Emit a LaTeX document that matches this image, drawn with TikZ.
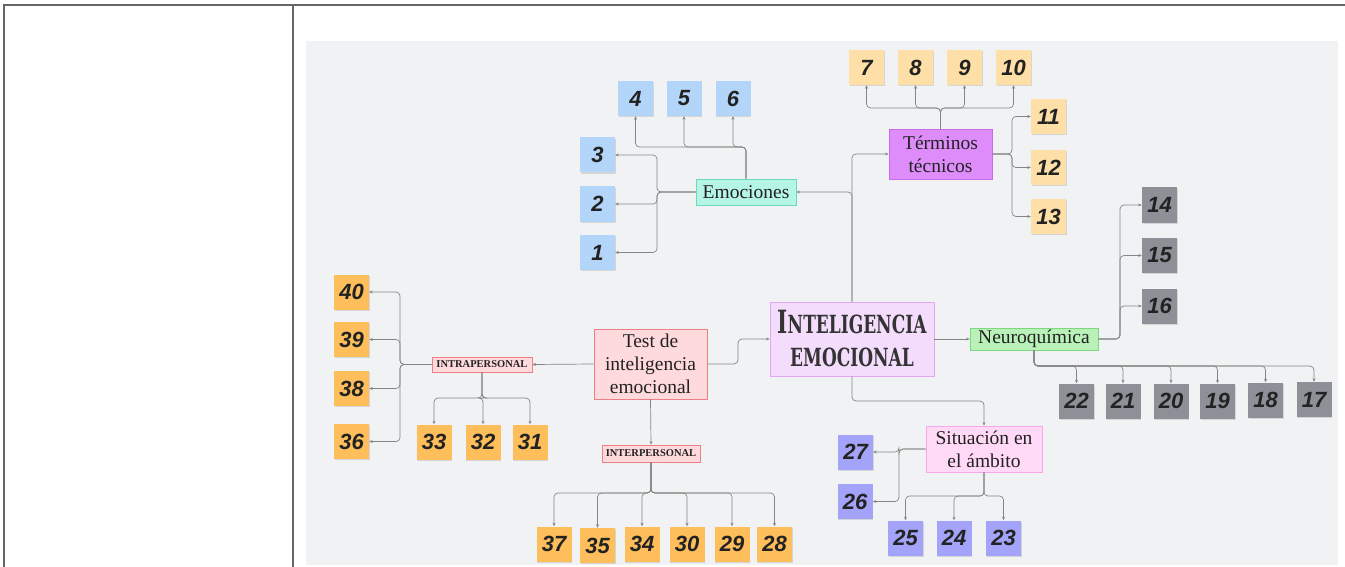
\documentclass[tikz,border=0pt]{standalone}
\usepackage{fontspec}
\usepackage{graphicx}
\setmainfont{Liberation Serif}
\newfontfamily\notefont{Liberation Sans}
\newfontfamily\titlefont{DejaVu Serif}
\usetikzlibrary{arrows.meta,shadows}
\definecolor{tbl}{HTML}{666666}
\definecolor{panel}{HTML}{F1F2F4}
\definecolor{ink}{HTML}{222222}
\definecolor{titleink}{HTML}{333333}
\definecolor{linkgray}{HTML}{858585}
\definecolor{noteblue}{HTML}{B4D5FA}
\definecolor{notepeach}{HTML}{FFDFA8}
\definecolor{noteorange}{HTML}{FDBE5B}
\definecolor{notegray}{HTML}{8D9096}
\definecolor{notepurple}{HTML}{A3A3F9}
\definecolor{mainfill}{HTML}{F3DCFC}\definecolor{mainline}{HTML}{E3A6F7}
\definecolor{emofill}{HTML}{B5F5E6}\definecolor{emoline}{HTML}{6CD9BE}
\definecolor{termfill}{HTML}{DD8CF9}\definecolor{termline}{HTML}{C96BE8}
\definecolor{neurofill}{HTML}{B9F1B9}\definecolor{neuroline}{HTML}{7DD87D}
\definecolor{sitfill}{HTML}{FFD9F6}\definecolor{sitline}{HTML}{F7A8E8}
\definecolor{testfill}{HTML}{FFDADD}\definecolor{testline}{HTML}{EE7F86}

\begin{document}
\begin{tikzpicture}[x=1pt,y=-1pt,
  note/.style={minimum width=35pt,minimum height=35pt,inner sep=0pt,text=ink,
    font=\notefont\bfseries\itshape\fontsize{22}{22}\selectfont,
    drop shadow={shadow xshift=0.6pt,shadow yshift=-1.2pt,opacity=0.25}},
  bluenote/.style={note,fill=noteblue}, peachnote/.style={note,fill=notepeach},
  orangenote/.style={note,fill=noteorange}, graynote/.style={note,fill=notegray},
  purplenote/.style={note,fill=notepurple},
  topic/.style={draw,line width=0.8pt,inner sep=1pt,align=center,text=ink,
    font=\fontsize{19.5}{23}\selectfont},
  tag/.style={topic,fill=testfill,draw=testline,font=\bfseries\fontsize{10.5}{11}\selectfont},
  link/.style={draw=linkgray,line width=0.7pt,rounded corners=4pt,-{Stealth[length=3.5pt,width=3pt]}}]
  \useasboundingbox (0,0) rectangle (1345,567);
  \draw[tbl,line width=2pt] (4,567) -- (4,5) -- (1345,5); \draw[tbl,line width=2pt] (293,5) -- (293,567);
  \fill[panel] (306,41) rectangle (1338,565);

  \node[topic,fill=mainfill,draw=mainline,text=titleink,minimum width=164pt,minimum height=74pt,font=\titlefont\bfseries\fontsize{25}{33}\selectfont] (main) at (852,339)
    {\scalebox{0.68}[1]{\fontsize{32}{32}\selectfont I\fontsize{25}{25}\selectfont NTELIGENCIA}\\\scalebox{0.68}[1]{EMOCIONAL}};
  \node[topic,fill=emofill,draw=emoline,minimum width=100pt,minimum height=26pt] (emo) at (746,192) {Emociones};
  \node[topic,fill=termfill,draw=termline,minimum width=103pt,minimum height=50pt] (term) at (940.5,154) {Términos\\técnicos};
  \node[topic,fill=neurofill,draw=neuroline,minimum width=128pt,minimum height=22pt] (neuro) at (1034,339) {Neuroquímica};
  \node[topic,fill=sitfill,draw=sitline,minimum width=116pt,minimum height=46pt] (sit) at (984,449) {Situación en\\el ámbito};
  \node[topic,fill=testfill,draw=testline,minimum width=113pt,minimum height=70pt] (test) at (650.5,364) {Test de\\inteligencia\\emocional};
  \node[tag,minimum width=100pt,minimum height=15pt] (intra) at (482,364.5) {INTRAPERSONAL};
  \node[tag,minimum width=98pt,minimum height=17pt] (inter) at (651,453.5) {INTERPERSONAL};

  \node[bluenote] (n4) at (635.5,98.5) {4}; \node[bluenote] (n5) at (684,98.5) {5}; \node[bluenote] (n6) at (733,98.5) {6};
  \node[bluenote] (n3) at (597.5,155) {3}; \node[bluenote] (n2) at (597.5,204) {2}; \node[bluenote] (n1) at (597.5,252.5) {1};
  \node[peachnote] (n7) at (866.5,67.5) {7}; \node[peachnote] (n8) at (915.5,67.5) {8};
  \node[peachnote] (n9) at (964.5,67.5) {9}; \node[peachnote] (n10) at (1013.5,67.5) {10};
  \node[peachnote] (n11) at (1048.5,116.5) {11}; \node[peachnote] (n12) at (1048.5,167.5) {12}; \node[peachnote] (n13) at (1048.5,216.5) {13};
  \node[graynote] (n14) at (1159.5,205) {14}; \node[graynote] (n15) at (1159.5,255.5) {15}; \node[graynote] (n16) at (1159.5,306) {16};
  \node[graynote] (n22) at (1076.5,401) {22}; \node[graynote] (n21) at (1123,401) {21}; \node[graynote] (n20) at (1171,401) {20};
  \node[graynote] (n19) at (1217.5,401) {19}; \node[graynote] (n18) at (1265.5,400) {18}; \node[graynote] (n17) at (1314,399.5) {17};
  \node[purplenote] (n27) at (855.5,452) {27}; \node[purplenote] (n26) at (855,501.5) {26};
  \node[purplenote] (n25) at (905.5,538) {25}; \node[purplenote] (n24) at (954,538) {24}; \node[purplenote] (n23) at (1003.5,538) {23};
  \node[orangenote] (n40) at (351.5,292) {40}; \node[orangenote] (n39) at (351.5,339.5) {39};
  \node[orangenote] (n38) at (351.5,388.5) {38}; \node[orangenote] (n36) at (351.5,441.5) {36};
  \node[orangenote] (n33) at (434,442) {33}; \node[orangenote] (n32) at (483,442) {32}; \node[orangenote] (n31) at (530,442) {31};
  \node[orangenote] (n37) at (554,544) {37}; \node[orangenote] (n35) at (597.5,545.5) {35}; \node[orangenote] (n34) at (642,544) {34};
  \node[orangenote] (n30) at (687,544) {30}; \node[orangenote] (n29) at (732,544) {29}; \node[orangenote] (n28) at (774.5,544) {28};

  \draw[link] (main.north) |- (term.west); \draw[link] (main.north) |- (emo.east); \draw[link] (main.east) -- (neuro.west);
  \coordinate (ms) at (0,401); \draw[link] (main.south) |- (ms -| sit.north) -- (sit.north);
  \coordinate (tm) at (738,0); \draw[link] (test.east) -| (tm |- main.west) -- (main.west);
  \draw[link] (test.west) -- (intra.east); \draw[link] (test.south) -- (inter.north);

  \coordinate (et) at (0,147); \coordinate (el) at (657,0);
  \draw[link] (emo.north) |- (et -| n4) -- (n4.south); \draw[link] (emo.north) |- (et -| n5) -- (n5.south); \draw[link] (emo.north) |- (et -| n6) -- (n6.south);
  \draw[link] (emo.west) -| (el |- n3) -- (n3.east); \draw[link] (emo.west) -| (el |- n2) -- (n2.east); \draw[link] (emo.west) -| (el |- n1) -- (n1.east);

  \coordinate (tt) at (0,108); \coordinate (tr) at (1012,0);
  \draw[link] (term.north) |- (tt -| n7) -- (n7.south); \draw[link] (term.north) |- (tt -| n8) -- (n8.south);
  \draw[link] (term.north) |- (tt -| n9) -- (n9.south); \draw[link] (term.north) |- (tt -| n10) -- (n10.south);
  \draw[link] (term.east) -| (tr |- n11) -- (n11.west); \draw[link] (term.east) -| (tr |- n12) -- (n12.west); \draw[link] (term.east) -| (tr |- n13) -- (n13.west);

  \coordinate (nr) at (1120,0); \coordinate (nb) at (0,366);
  \draw[link] (neuro.east) -| (nr |- n14) -- (n14.west); \draw[link] (neuro.east) -| (nr |- n15) -- (n15.west); \draw[link] (neuro.east) -| (nr |- n16) -- (n16.west);
  \draw[link] (neuro.south) |- (nb -| n22) -- (n22.north); \draw[link] (neuro.south) |- (nb -| n21) -- (n21.north); \draw[link] (neuro.south) |- (nb -| n20) -- (n20.north);
  \draw[link] (neuro.south) |- (nb -| n19) -- (n19.north); \draw[link] (neuro.south) |- (nb -| n18) -- (n18.north); \draw[link] (neuro.south) |- (nb -| n17) -- (n17.north);

  \coordinate (sl) at (899,0); \coordinate (sb) at (0,496);
  \draw[link] (sit.west) -| (sl |- n27) -- (n27.east); \draw[link] (sit.west) -| (sl |- n26) -- (n26.east);
  \draw[link] (sit.south) |- (sb -| n25) -- (n25.north); \draw[link] (sit.south) |- (sb -| n24) -- (n24.north); \draw[link] (sit.south) |- (sb -| n23) -- (n23.north);

  \coordinate (il) at (400,0); \coordinate (ib) at (0,398); \coordinate (xb) at (0,493);
  \draw[link] (intra.west) -| (il |- n40) -- (n40.east); \draw[link] (intra.west) -| (il |- n39) -- (n39.east);
  \draw[link] (intra.west) -| (il |- n38) -- (n38.east); \draw[link] (intra.west) -| (il |- n36) -- (n36.east);
  \draw[link] (intra.south) |- (ib -| n33) -- (n33.north); \draw[link] (intra.south) |- (ib -| n32) -- (n32.north); \draw[link] (intra.south) |- (ib -| n31) -- (n31.north);
  \draw[link] (inter.south) |- (xb -| n37) -- (n37.north); \draw[link] (inter.south) |- (xb -| n35) -- (n35.north); \draw[link] (inter.south) |- (xb -| n34) -- (n34.north);
  \draw[link] (inter.south) |- (xb -| n30) -- (n30.north); \draw[link] (inter.south) |- (xb -| n29) -- (n29.north); \draw[link] (inter.south) |- (xb -| n28) -- (n28.north);
\end{tikzpicture}
\end{document}
